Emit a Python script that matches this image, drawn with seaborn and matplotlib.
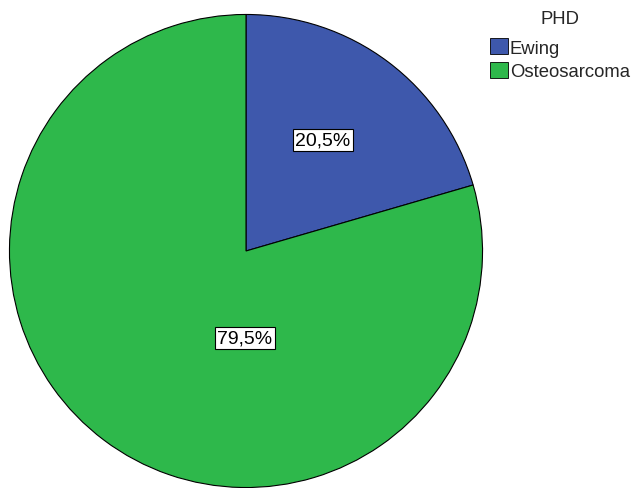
import matplotlib
matplotlib.use("Agg")
import matplotlib.pyplot as plt
import seaborn as sns
from matplotlib.patches import Patch

categories = ["Ewing", "Osteosarcoma"]
values = [20.5, 79.5]
labels = ["20,5%", "79,5%"]
legend_title = "PHD"
colors = ["#3E58AC", "#2EB84B"]

sns.set_theme(style="white")
plt.rcParams['font.family'] = ['Liberation Sans', 'DejaVu Sans']

fig = plt.figure(figsize=(6.36, 4.89), dpi=100)
ax = fig.add_axes([9/636, 0/489, 474/636, 474/489])
wedges, _ = ax.pie(values, colors=colors, startangle=90, counterclock=False,
                   radius=0.998,
                   wedgeprops=dict(edgecolor="black", linewidth=0.8))
ax.set_xlim(-1, 1)
ax.set_ylim(-1, 1)
ax.set_aspect("equal")
ax.axis("off")

label_pos = [(0.325, 0.468), (-0.004, -0.367)]
for (x, y), lab in zip(label_pos, labels):
    ax.text(x, y, lab, ha="center", va="center", fontsize=14, color="black",
            bbox=dict(facecolor="white", edgecolor="black", linewidth=0.8, pad=1.5))

handles = [Patch(facecolor=c, edgecolor="black", linewidth=0.6) for c in colors]
leg = fig.legend(handles, categories, title=legend_title, loc="upper left",
                 bbox_to_anchor=(479/636, 1.0), frameon=False, fontsize=13.3,
                 title_fontsize=13.3, handlelength=0.95, handleheight=0.95,
                 handletextpad=0.12, labelspacing=0.28, borderpad=0.1)
leg._legend_box.align = "center"
leg._legend_box.sep = 8

fig.savefig("out.png", dpi=100)
